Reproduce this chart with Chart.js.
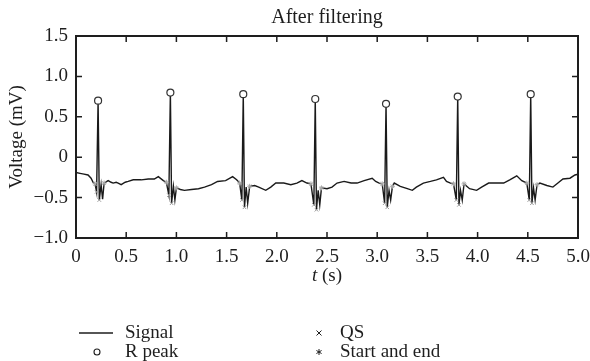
<!DOCTYPE html>
<html>
<head>
<meta charset="utf-8">
<script src="https://cdn.jsdelivr.net/npm/chart.js@4/dist/chart.umd.min.js"></script>
<style>
html,body{margin:0;padding:0;background:#fff;}
#wrap{width:590px;height:361px;}
</style>
</head>
<body>
<div id="wrap"><canvas id="c" width="590" height="361"></canvas></div>
<script>
// ---- data ----
const signalTime = [0.00,0.04,0.08,0.12,0.15,0.17,0.19,0.205,0.22,0.232,0.25,0.265,0.28,0.32,0.35,0.37,0.40,0.42,0.45,0.49,0.52,0.57,0.65,0.72,0.78,0.82,0.87,
  0.90,0.925,0.94,0.952,0.97,0.985,1.00,1.04,1.08,1.15,1.22,1.28,1.35,1.41,1.49,1.56,1.60,
  1.63,1.652,1.666,1.678,1.695,1.71,1.73,1.78,1.82,1.89,1.94,1.99,2.07,2.14,2.20,2.25,2.30,
  2.34,2.369,2.383,2.395,2.412,2.428,2.445,2.50,2.55,2.60,2.67,2.74,2.80,2.87,2.95,2.985,3.02,
  3.05,3.074,3.088,3.10,3.118,3.134,3.152,3.17,3.23,3.30,3.35,3.39,3.46,3.53,3.59,3.66,3.69,3.73,
  3.76,3.788,3.802,3.814,3.83,3.847,3.865,3.92,3.99,4.04,4.11,4.18,4.26,4.32,4.39,4.44,
  4.49,4.515,4.529,4.541,4.557,4.573,4.592,4.62,4.69,4.75,4.80,4.85,4.92,4.97,5.00];
const signalVoltage = [-0.19,-0.20,-0.21,-0.22,-0.26,-0.31,-0.33,-0.43,0.70,-0.53,-0.34,-0.52,-0.32,-0.29,-0.31,-0.32,-0.31,-0.32,-0.34,-0.31,-0.30,-0.28,-0.28,-0.27,-0.27,-0.24,-0.29,
  -0.31,-0.47,0.80,-0.57,-0.36,-0.53,-0.38,-0.40,-0.41,-0.40,-0.39,-0.37,-0.34,-0.30,-0.29,-0.24,-0.28,
  -0.32,-0.53,0.78,-0.62,-0.37,-0.57,-0.36,-0.35,-0.37,-0.41,-0.37,-0.32,-0.32,-0.34,-0.32,-0.29,-0.32,
  -0.33,-0.59,0.72,-0.65,-0.41,-0.59,-0.38,-0.39,-0.37,-0.32,-0.30,-0.32,-0.32,-0.29,-0.26,-0.30,-0.32,
  -0.33,-0.57,0.66,-0.62,-0.41,-0.53,-0.36,-0.32,-0.36,-0.39,-0.41,-0.37,-0.32,-0.30,-0.28,-0.25,-0.30,-0.32,
  -0.33,-0.53,0.75,-0.59,-0.41,-0.53,-0.33,-0.39,-0.41,-0.37,-0.32,-0.32,-0.32,-0.28,-0.23,-0.29,
  -0.32,-0.53,0.78,-0.57,-0.38,-0.53,-0.34,-0.32,-0.35,-0.37,-0.32,-0.27,-0.26,-0.22,-0.21];

const rPeakTime = [0.22,0.94,1.666,2.383,3.088,3.802,4.529];
const rPeakVoltage = [0.70,0.80,0.78,0.72,0.66,0.75,0.78];

const qsTime = [0.205,0.232,0.925,0.952,1.652,1.678,2.369,2.395,3.074,3.10,3.788,3.814,4.515,4.541];
const qsVoltage = [-0.43,-0.53,-0.47,-0.57,-0.53,-0.62,-0.59,-0.65,-0.57,-0.62,-0.53,-0.59,-0.53,-0.57];

const startEndTime = [0.19,0.28,0.90,1.00,1.63,1.73,2.34,2.445,3.05,3.152,3.76,3.865,4.49,4.592];
const startEndVoltage = [-0.33,-0.32,-0.31,-0.38,-0.32,-0.36,-0.33,-0.38,-0.33,-0.36,-0.33,-0.33,-0.32,-0.34];

const xTickLabels = ['0','0.5','1.0','1.5','2.0','2.5','3.0','3.5','4.0','4.5','5.0'];
const yTickLabels = ['\u22121.0','\u22120.5','0','0.5','1.0','1.5'];
const legendLabels = ['Signal','R peak','QS','Start and end'];

// ---- build ----
const pts = (xs, ys) => xs.map((x, i) => ({x, y: ys[i]}));
const FONT = 'Liberation Serif, Times New Roman, serif';
const INK = '#1e1e1e';

const framePlugin = {
  id: 'frame',
  afterDraw(chart) {
    const ctx = chart.ctx, a = chart.chartArea;
    const xs = chart.scales.x, ys = chart.scales.y;
    ctx.save();
    ctx.strokeStyle = INK;
    ctx.lineWidth = 2;
    ctx.strokeRect(a.left, a.top, a.right - a.left, a.bottom - a.top);
    ctx.lineWidth = 1.5;
    const tl = 6;
    ctx.beginPath();
    xs.ticks.forEach(t => {
      if (t.value <= xs.min || t.value >= xs.max) return;
      const p = xs.getPixelForValue(t.value);
      ctx.moveTo(p, a.bottom); ctx.lineTo(p, a.bottom - tl);
      ctx.moveTo(p, a.top); ctx.lineTo(p, a.top + tl);
    });
    ys.ticks.forEach(t => {
      if (t.value <= ys.min || t.value >= ys.max) return;
      const p = ys.getPixelForValue(t.value);
      ctx.moveTo(a.left, p); ctx.lineTo(a.left + tl, p);
      ctx.moveTo(a.right, p); ctx.lineTo(a.right - tl, p);
    });
    ctx.stroke();

    // x-axis title with italic t
    ctx.fillStyle = INK;
    ctx.textBaseline = 'middle';
    ctx.textAlign = 'left';
    const cx = (a.left + a.right) / 2, ty = 276;
    ctx.font = 'italic 19px ' + FONT;
    const w1 = ctx.measureText('t').width;
    ctx.font = '19px ' + FONT;
    const w2 = ctx.measureText(' (s)').width;
    const sx = cx - (w1 + w2) / 2;
    ctx.font = 'italic 19px ' + FONT;
    ctx.fillText('t', sx, ty);
    ctx.font = '19px ' + FONT;
    ctx.fillText(' (s)', sx + w1, ty);

    // legend
    const r1 = 333, r2 = 352;
    ctx.lineWidth = 1.3;
    ctx.beginPath(); ctx.moveTo(79, r1); ctx.lineTo(113, r1); ctx.stroke();
    ctx.lineWidth = 1.1;
    ctx.beginPath(); ctx.arc(97, r2, 3, 0, Math.PI * 2); ctx.stroke();
    ctx.lineWidth = 1;
    ctx.beginPath();
    ctx.moveTo(316.5, r1 - 2.5); ctx.lineTo(321.5, r1 + 2.5);
    ctx.moveTo(321.5, r1 - 2.5); ctx.lineTo(316.5, r1 + 2.5);
    for (let k = 0; k < 3; k++) {
      const ang = k * Math.PI / 3 + Math.PI / 2;
      ctx.moveTo(319 + 3 * Math.cos(ang), r2 + 3 * Math.sin(ang));
      ctx.lineTo(319 - 3 * Math.cos(ang), r2 - 3 * Math.sin(ang));
    }
    ctx.stroke();
    ctx.font = '19px ' + FONT;
    ctx.fillText(legendLabels[0], 125, r1);
    ctx.fillText(legendLabels[1], 125, r2);
    ctx.fillText(legendLabels[2], 340, r1);
    ctx.fillText(legendLabels[3], 340, r2);
    ctx.restore();
  }
};

const tickFont = {family: FONT, size: 19};

new Chart(document.getElementById('c'), {
  type: 'scatter',
  data: {
    datasets: [
      {label: legendLabels[1], data: pts(rPeakTime, rPeakVoltage), order: 0,
       pointStyle: 'circle', pointRadius: 3.5, borderColor: '#333', backgroundColor: '#fff', borderWidth: 1.2},
      {label: legendLabels[2], data: pts(qsTime, qsVoltage), order: 1,
       pointStyle: 'crossRot', pointRadius: 2.5, borderColor: '#9a9a9a', borderWidth: 1},
      {label: legendLabels[3], data: pts(startEndTime, startEndVoltage), order: 2,
       pointStyle: 'star', pointRadius: 2.5, borderColor: '#a8a8a8', borderWidth: 1},
      {label: legendLabels[0], data: pts(signalTime, signalVoltage), order: 3, showLine: true,
       borderColor: '#1a1a1a', borderWidth: 1.4, pointRadius: 0, tension: 0}
    ]
  },
  options: {
    responsive: false,
    animation: false,
    devicePixelRatio: 1,
    layout: {padding: {left: 0, right: 12, top: 0, bottom: 73}},
    plugins: {
      legend: {display: false},
      tooltip: {enabled: false},
      title: {display: true, text: 'After filtering', fullSize: false, color: INK,
              font: {family: FONT, size: 20, weight: 'normal'}, padding: {top: 6, bottom: 6}}
    },
    scales: {
      x: {
        type: 'linear', min: 0, max: 5,
        grid: {display: false, drawTicks: false}, border: {display: false},
        ticks: {stepSize: 0.5, padding: 8, maxRotation: 0, autoSkip: false, color: INK, font: tickFont,
                callback: (v) => xTickLabels[Math.round(v / 0.5)]},
        afterFit(s) { s.height = 50; s.paddingLeft = 0; s.paddingRight = 0; }
      },
      y: {
        type: 'linear', min: -1, max: 1.5,
        grid: {display: false, drawTicks: false}, border: {display: false},
        ticks: {stepSize: 0.5, padding: 8, color: INK, font: tickFont,
                callback: (v) => yTickLabels[Math.round((v + 1) / 0.5)]},
        title: {display: true, text: 'Voltage (mV)', color: INK, font: tickFont, padding: {top: 6, bottom: 0}},
        afterFit(s) { s.width = 76; }
      }
    }
  },
  plugins: [framePlugin]
});
</script>
</body>
</html>
